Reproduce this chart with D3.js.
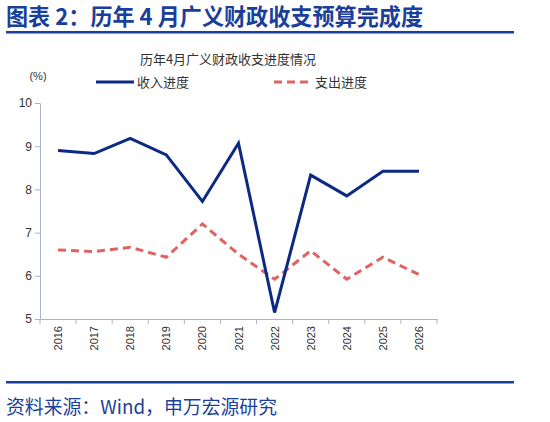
<!DOCTYPE html>
<html><head><meta charset="utf-8">
<script src="https://cdn.jsdelivr.net/npm/d3@7"></script>
<style>body{margin:0;background:#fff}svg{display:block}</style>
</head><body><svg id="c" width="550" height="422"></svg>
<script>
const years = ['2016','2017','2018','2019','2020','2021','2022','2023','2024','2025','2026'];
const revenue = [8.9, 8.83, 9.18, 8.8, 7.72, 9.07, 5.15, 8.33, 7.85, 8.42, 8.42];
const spending = [6.6, 6.56, 6.66, 6.43, 7.2, 6.5, 5.92, 6.58, 5.92, 6.43, 6.03];
const yTicks = [5, 6, 7, 8, 9, 10];

const svg = d3.select('#c');
const font = '"Noto Sans CJK SC", sans-serif';
const numFont = '"Liberation Sans", Arial, sans-serif';
const blue = '#1a3f9a';

svg.append('text').attr('x', 6).attr('y', 25).attr('font-family', font)
    .attr('font-size', 23).attr('font-weight', 'bold').attr('fill', blue)
    .attr('textLength', 417).attr('lengthAdjust', 'spacingAndGlyphs')
    .text('图表 2：历年 4 月广义财政收支预算完成度');
svg.append('rect').attr('x', 6).attr('y', 31).attr('width', 508).attr('height', 2.5).attr('fill', blue);
svg.append('rect').attr('x', 6).attr('y', 381).attr('width', 508).attr('height', 2.5).attr('fill', blue);
svg.append('text').attr('x', 6).attr('y', 414).attr('font-family', font)
    .attr('font-size', 19).attr('fill', blue)
    .attr('textLength', 271).attr('lengthAdjust', 'spacingAndGlyphs')
    .text('资料来源：Wind，申万宏源研究');

svg.append('text').attr('x', 228).attr('y', 64).attr('text-anchor', 'middle').attr('font-family', font)
    .attr('font-size', 13).attr('fill', '#333').text('历年4月广义财政收支进度情况');
svg.append('text').attr('x', 38).attr('y', 80).attr('text-anchor', 'middle').attr('font-family', numFont)
    .attr('font-size', 11).attr('fill', '#333').text('(%)');

const x = d3.scaleBand().domain(years).range([40, 437]);
const y = d3.scaleLinear().domain([5, 10]).range([319, 103]);

const ax = svg.append('g').attr('transform', 'translate(0,319)')
    .call(d3.axisBottom(x).tickSize(5).tickSizeOuter(0).tickFormat(''));
ax.selectAll('.tick line').attr('transform', `translate(${-x.bandwidth()/2},0)`);
ax.append('line').attr('x1', 437).attr('x2', 437).attr('y2', 5);
ax.selectAll('line,path').attr('stroke', '#aab4cc');
ax.selectAll('.tick').append('text').attr('transform', 'rotate(-90)')
    .attr('x', -7).attr('y', 4).attr('text-anchor', 'end')
    .attr('font-family', numFont).attr('font-size', 11).attr('fill', '#333').text(d => d);

const ay = svg.append('g').attr('transform', 'translate(40,0)')
    .call(d3.axisLeft(y).tickValues(yTicks).tickFormat(d3.format('d')).tickSize(5).tickSizeOuter(0));
ay.selectAll('line,path').attr('stroke', '#aab4cc');
ay.selectAll('text').attr('font-family', numFont).attr('font-size', 12).attr('fill', '#333');

const line = d3.line().x((d, i) => x(years[i]) + x.bandwidth() / 2).y(d => y(d));
svg.append('path').datum(spending).attr('d', line).attr('fill', 'none')
    .attr('stroke', '#e06363').attr('stroke-width', 3).attr('stroke-dasharray', '8,5');
svg.append('path').datum(revenue).attr('d', line).attr('fill', 'none')
    .attr('stroke', '#0c2a82').attr('stroke-width', 3);

const lg = [
    {x: 96, label: '收入进度', color: '#0c2a82', dash: null},
    {x: 274, label: '支出进度', color: '#e06363', dash: '8,5'}
];
lg.forEach(l => {
    svg.append('line').attr('x1', l.x).attr('x2', l.x + 38).attr('y1', 82).attr('y2', 82)
        .attr('stroke', l.color).attr('stroke-width', 3).attr('stroke-dasharray', l.dash);
    svg.append('text').attr('x', l.x + 41).attr('y', 87).attr('font-family', font)
        .attr('font-size', 13).attr('fill', '#333').text(l.label);
});
</script></body></html>
